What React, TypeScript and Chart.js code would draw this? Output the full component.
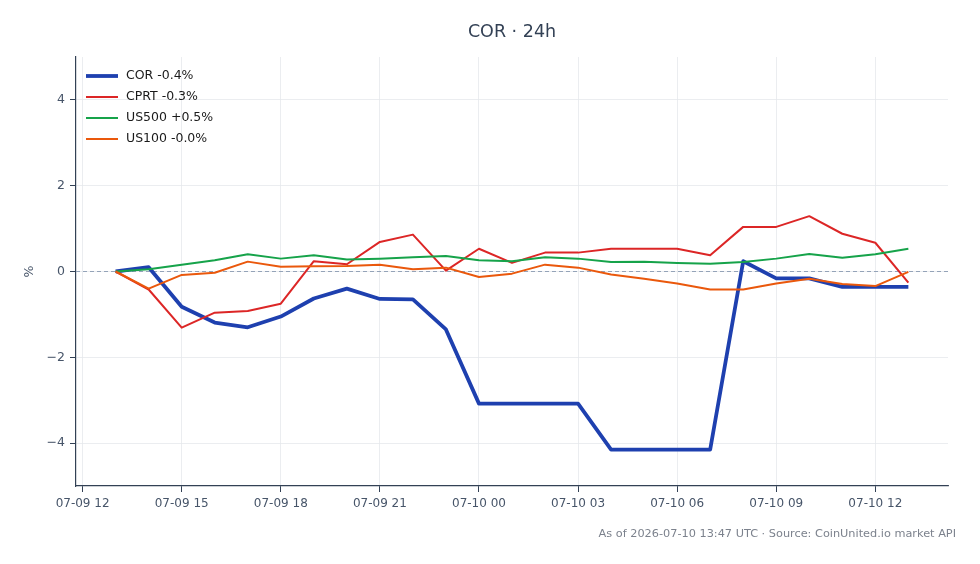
import { useEffect, useRef } from "react";
import { Chart, registerables } from "chart.js";

Chart.register(...registerables);

// Hourly samples, hours counted from 07-09 00:00 UTC
const HOURS = [13, 14, 15, 16, 17, 18, 19, 20, 21, 22, 23, 24, 25, 26, 27, 28, 29, 30, 31, 32, 33, 34, 35, 36, 37];

const X_TICK_HOURS = [12, 15, 18, 21, 24, 27, 30, 33, 36];
const X_TICK_LABELS = ["07-09 12", "07-09 15", "07-09 18", "07-09 21", "07-10 00", "07-10 03", "07-10 06", "07-10 09", "07-10 12"];
const Y_TICKS = [-4, -2, 0, 2, 4];

// % change since the first sample
const COR = [0, 0.1, -0.82, -1.19, -1.3, -1.05, -0.63, -0.4, -0.64, -0.65, -1.35, -3.08, -3.08, -3.08, -3.08, -4.15, -4.15, -4.15, -4.15, 0.24, -0.16, -0.16, -0.36, -0.36, -0.36];
const CPRT = [0, -0.42, -1.31, -0.96, -0.92, -0.75, 0.24, 0.17, 0.69, 0.86, 0.02, 0.53, 0.2, 0.44, 0.44, 0.53, 0.53, 0.53, 0.38, 1.04, 1.04, 1.29, 0.88, 0.67, -0.26];
const US500 = [0, 0.05, 0.16, 0.26, 0.4, 0.3, 0.38, 0.28, 0.3, 0.33, 0.36, 0.26, 0.24, 0.33, 0.3, 0.22, 0.23, 0.2, 0.18, 0.22, 0.3, 0.41, 0.32, 0.4, 0.53];
const US100 = [0, -0.4, -0.08, -0.03, 0.23, 0.11, 0.12, 0.13, 0.16, 0.05, 0.09, -0.13, -0.05, 0.16, 0.09, -0.07, -0.17, -0.28, -0.42, -0.42, -0.28, -0.17, -0.29, -0.34, -0.01];

const SERIES = [
  { name: "COR", values: COR, color: "#1e40af", width: 3.8 },
  { name: "CPRT", values: CPRT, color: "#dc2626", width: 2 },
  { name: "US500", values: US500, color: "#16a34a", width: 2 },
  { name: "US100", values: US100, color: "#ea580c", width: 2 },
];

const TITLE = "COR \u00b7 24h";
const FOOTER = "As of 2026-07-10 13:47 UTC \u00b7 Source: CoinUnited.io market API";
const FONT = "'DejaVu Sans', sans-serif";

function changeLabel(name: string, values: number[]) {
  const last = values[values.length - 1];
  const sign = last >= 0 ? "+" : "-";
  return `${name} ${sign}${Math.abs(last).toFixed(1)}%`;
}

const decorPlugin = {
  id: "decor",
  beforeDatasetsDraw(chart: any) {
    const { ctx, chartArea } = chart;
    const y0 = chart.scales.y.getPixelForValue(0);
    ctx.save();
    ctx.strokeStyle = "#94a3b8";
    ctx.lineWidth = 1;
    ctx.setLineDash([4, 3]);
    ctx.beginPath();
    ctx.moveTo(chartArea.left, y0);
    ctx.lineTo(chartArea.right, y0);
    ctx.stroke();
    ctx.restore();
  },
  afterDraw(chart: any) {
    const { ctx, chartArea } = chart;
    ctx.save();
    // title
    ctx.fillStyle = "#334155";
    ctx.font = `17.5px ${FONT}`;
    ctx.textAlign = "center";
    ctx.textBaseline = "middle";
    ctx.fillText(TITLE, (chartArea.left + chartArea.right) / 2, 24);

    // y axis label
    ctx.save();
    ctx.translate(22, (chartArea.top + chartArea.bottom) / 2);
    ctx.rotate(-Math.PI / 2);
    ctx.fillStyle = "#475569";
    ctx.font = `12.5px ${FONT}`;
    ctx.fillText("%", 0, 0);
    ctx.restore();

    // legend
    ctx.font = `12.5px ${FONT}`;
    ctx.textAlign = "left";
    ctx.textBaseline = "middle";
    SERIES.forEach((s, i) => {
      const y = chartArea.top + 19 + i * 21;
      ctx.strokeStyle = s.color;
      ctx.lineWidth = s.width;
      ctx.lineCap = "butt";
      ctx.beginPath();
      ctx.moveTo(chartArea.left + 10, y);
      ctx.lineTo(chartArea.left + 42, y);
      ctx.stroke();
      ctx.fillStyle = "#1a1a1a";
      ctx.fillText(changeLabel(s.name, s.values), chartArea.left + 50, y);
    });

    // footer
    ctx.fillStyle = "#7c828d";
    ctx.font = `11.3px ${FONT}`;
    ctx.textAlign = "right";
    ctx.fillText(FOOTER, 948, 526);
    ctx.restore();
  },
};

export default function App() {
  const canvasRef = useRef<HTMLCanvasElement | null>(null);

  useEffect(() => {
    if (!canvasRef.current) return;
    const chart = new Chart(canvasRef.current, {
      type: "line",
      data: {
        datasets: SERIES.map((s, i) => ({
          label: s.name,
          data: HOURS.map((h, j) => ({ x: h, y: s.values[j] })),
          borderColor: s.color,
          backgroundColor: s.color,
          borderWidth: s.width,
          pointRadius: 0,
          tension: 0,
          borderJoinStyle: "round" as const,
          borderCapStyle: "butt" as const,
          order: SERIES.length - i,
        })),
      },
      options: {
        responsive: false,
        animation: false,
        devicePixelRatio: 1,
        layout: { padding: { top: 49, right: 24, bottom: 0, left: 0 } },
        plugins: {
          legend: { display: false },
          title: { display: false },
          tooltip: { enabled: false },
        },
        scales: {
          x: {
            type: "linear",
            min: 11.8,
            max: 38.2,
            afterBuildTicks: (scale: any) => {
              scale.ticks = X_TICK_HOURS.map((v) => ({ value: v }));
            },
            afterFit: (scale: any) => {
              scale.height = 70;
            },
            grid: {
              color: "#e6e8ec",
              lineWidth: 0.8,
              tickColor: "#334155",
              tickLength: 6,
              tickWidth: 1,
            },
            border: { display: true, color: "#334155", width: 1.2 },
            ticks: {
              autoSkip: false,
              maxRotation: 0,
              padding: 5,
              color: "#475569",
              font: { family: FONT, size: 12 },
              callback: (v: any) => {
                const k = X_TICK_HOURS.indexOf(Number(v));
                return k >= 0 ? X_TICK_LABELS[k] : "";
              },
            },
          },
          y: {
            type: "linear",
            min: -5,
            max: 5,
            afterBuildTicks: (scale: any) => {
              scale.ticks = Y_TICKS.map((v) => ({ value: v }));
            },
            afterFit: (scale: any) => {
              scale.width = 68;
            },
            grid: {
              color: "#e6e8ec",
              lineWidth: 0.8,
              tickColor: "#334155",
              tickLength: 6,
              tickWidth: 1,
            },
            border: { display: true, color: "#334155", width: 1.2 },
            ticks: {
              padding: 5,
              color: "#475569",
              font: { family: FONT, size: 12.5 },
              callback: (v: any) => {
                const n = Number(v);
                return n < 0 ? "\u2212" + Math.abs(n) : String(n);
              },
            },
          },
        },
      },
      plugins: [decorPlugin],
    });
    return () => chart.destroy();
  }, []);

  return (
    <div style={{ width: 964, height: 548 }}>
      <canvas ref={canvasRef} width={964} height={548} />
    </div>
  );
}
